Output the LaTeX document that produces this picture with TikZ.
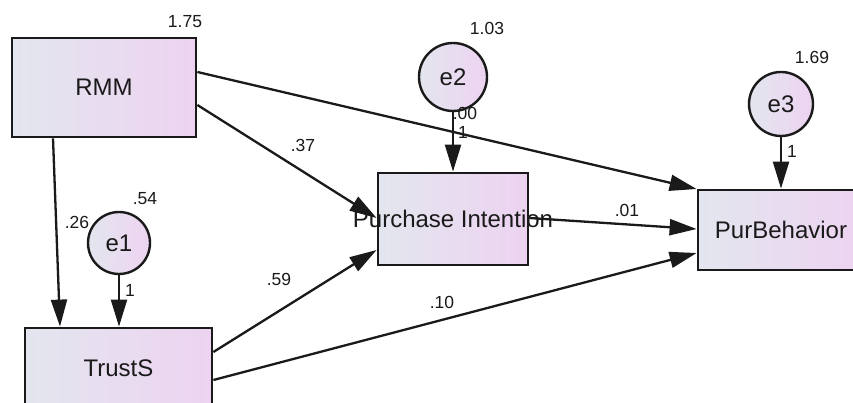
\documentclass[tikz,border=0pt]{standalone}
\usepackage{fontspec}
\setmainfont{Liberation Sans}
\usetikzlibrary{arrows.meta}
\definecolor{boxL}{HTML}{E3E6EE}
\definecolor{boxR}{HTML}{EDD3F1}
\definecolor{ink}{HTML}{1A1A1A}
\begin{document}
\begin{tikzpicture}[x=1pt,y=-1pt,
  var/.style={draw=ink, line width=2.8pt, rectangle, left color=boxL, right color=boxR,
    inner sep=0pt, font=\fontsize{24}{24}\selectfont, text=ink},
  err/.style={draw=ink, line width=2.4pt, circle, left color=boxL, right color=boxR,
    inner sep=0pt, font=\fontsize{24}{24}\selectfont, text=ink},
  arr/.style={draw=ink, line width=2.3pt, -{Triangle[length=27pt,width=16pt]}},
  num/.style={font=\fontsize{17.5}{17.5}\selectfont, text=ink, inner sep=0pt}]
\useasboundingbox (0,0) rectangle (853,403);
\clip (0,0) rectangle (853,403);
\fill[white] (0,0) rectangle (853,403);
% observed variables
\node[var, minimum width=184pt, minimum height=99pt] (RMM) at (104,87.5) {RMM};
\node[var, minimum width=150pt, minimum height=92pt] (PI) at (453,219) {\makebox[0pt]{Purchase Intention}};
\node[var, minimum width=166pt, minimum height=80pt] (PB) at (781,230) {PurBehavior};
\node[var, minimum width=187pt, minimum height=80pt] (TS) at (118.5,368) {TrustS};
% error terms
\node[err, minimum size=62pt] (e1) at (119,243) {e1};
\node[err, minimum size=68pt] (e2) at (453,77) {e2};
\node[err, minimum size=64pt] (e3) at (781,104) {e3};
% paths
\draw[arr] ([xshift=-51pt]RMM.south) -- ([xshift=-58.5pt]TS.north);
\draw[arr] (e1.south) -- (e1.south |- TS.north);
\draw[arr] (e2.south) -- (e2.south |- PI.north);
\draw[arr] (e3.south) -- (e3.south |- PB.north);
\draw[arr] ([yshift=-17.5pt]RMM.east) -- ([yshift=1pt]PI.west);
\draw[arr] ([yshift=15.5pt]RMM.east) -- ([yshift=41pt]PB.west);
\draw[arr] ([yshift=1pt]PI.east) -- ([yshift=1pt]PB.west);
\draw[arr] ([yshift=16pt]TS.east) -- ([yshift=-31pt]PI.west);
\draw[arr] ([yshift=-12pt]TS.east) -- ([yshift=-23pt]PB.west);
% labels
\node[num] (v1) at (185,22) {1.75};
\node[num] (v2) at (487,28) {1.03};
\node[num] (v3) at (812,57) {1.69};
\node[num] (v4) at (145,199) {.54};
\node[num] (w1) at (77,222) {.26};
\node[num] (w2) at (130,290) {1};
\node[num] (w3) at (303,145) {.37};
\node[num] (w4) at (465,113) {.00};
\node[num] (w5) at (463,132) {1};
\node[num] (w6) at (792,151) {1};
\node[num] (w7) at (627,210) {.01};
\node[num] (w8) at (279,279) {.59};
\node[num] (w9) at (442,302) {.10};
\end{tikzpicture}
\end{document}
